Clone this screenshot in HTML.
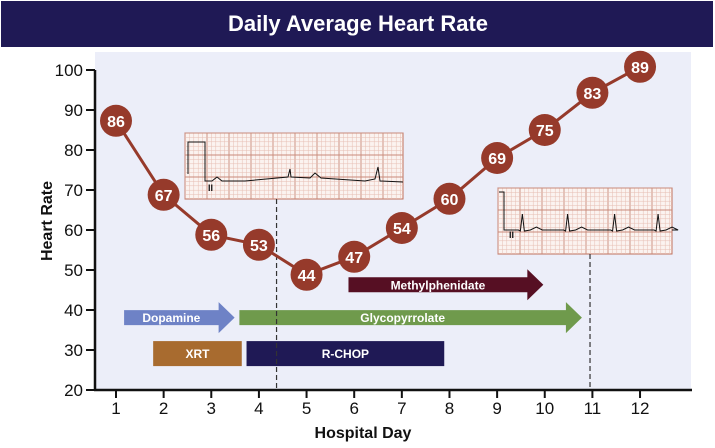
<!DOCTYPE html>
<html><head><meta charset="utf-8">
<style>
html,body{margin:0;padding:0;background:#fff;}
body{width:715px;height:443px;overflow:hidden;font-family:"Liberation Sans",sans-serif;}
svg text{font-family:"Liberation Sans Narrow","Liberation Sans",sans-serif;}
</style></head>
<body>
<svg id="chart" width="715" height="443" viewBox="0 0 715 443" xmlns="http://www.w3.org/2000/svg">
  <rect x="1" y="1" width="712" height="46" fill="#1f1955"/>
  <text x="358" y="31" text-anchor="middle" fill="#fff" font-size="22" font-weight="bold">Daily Average Heart Rate</text>
  <rect x="95" y="52" width="596" height="338" fill="#eceef9"/>
  <g id="bars"></g>
  <g id="ecg"></g>
  <g id="series"></g>
  <g id="axes"></g>
  <text transform="translate(52,221) rotate(-90)" text-anchor="middle" font-size="16" font-weight="bold" fill="#111">Heart Rate</text>
  <text x="363" y="438" text-anchor="middle" font-size="16" font-weight="bold" fill="#111">Hospital Day</text>
</svg>
<script>
const days = [1,2,3,4,5,6,7,8,9,10,11,12];
const plotted = [87.3,68.8,58.8,56.3,48.8,53.3,60.5,67.8,78,85,94.3,100.8];
const labels = ["86","67","56","53","44","47","54","60","69","75","83","89"];
const yTicks = [20,30,40,50,60,70,80,90,100];
const therapyNames = ["Dopamine","Glycopyrrolate","Methylphenidate","XRT","R-CHOP"];
const therapyStart = [1.17,3.59,5.88,1.78,3.74];
const therapyEnd = [3.49,10.78,9.97,3.64,7.89];
const therapyLevel = [38.1,38.1,46.3,29.1,29.1];
const ecgDays = [4.37,10.95];

const NS="http://www.w3.org/2000/svg";
const x = d => 116 + (d-1)*47.64;
const y = v => 390 - (v-20)*4;
function el(tag, attrs, parent){const e=document.createElementNS(NS,tag);for(const k in attrs)e.setAttribute(k,attrs[k]);parent.appendChild(e);return e;}

const axes=document.getElementById('axes');
let a=el('line',{x1:94,y1:390,x2:692,y2:390,stroke:'#111','stroke-width':2.5},axes);


a=el('line',{x1:95,y1:70,x2:95,y2:391,stroke:'#111','stroke-width':2.5},axes);


yTicks.forEach(t=>{
  const l=el('line',{x1:86,y1:y(t),x2:95,y2:y(t),stroke:'#111','stroke-width':2},axes);
  
  
  const tx=el('text',{x:83,y:y(t)+6,'text-anchor':'end','font-size':17,fill:'#111'},axes);
  tx.textContent=t;
  
  
});
days.forEach(d=>{
  const l=el('line',{x1:x(d),y1:390,x2:x(d),y2:398,stroke:'#111','stroke-width':2},axes);
  
  
  const tx=el('text',{x:x(d),y:414,'text-anchor':'middle','font-size':17,fill:'#111'},axes);
  tx.textContent=d;
  
  
});

// therapy bars
const barColors=["#6e82c6","#6f9a4c","#560f23","#a86b2f","#1f1955"];
const bars=document.getElementById('bars');
therapyNames.forEach((n,i)=>{
  const x0=x(therapyStart[i]), x1=x(therapyEnd[i]), yc=y(therapyLevel[i]);
  const isArrow=i<3;
  let shape;
  if(isArrow){
    const h=15, hh=31, hl=16;
    shape=el('polygon',{points:`${x0},${yc-h/2} ${x1-hl},${yc-h/2} ${x1-hl},${yc-hh/2} ${x1},${yc} ${x1-hl},${yc+hh/2} ${x1-hl},${yc+h/2} ${x0},${yc+h/2}`,fill:barColors[i]},bars);
  } else {
    shape=el('rect',{x:x0,y:yc-12.5,width:x1-x0,height:25,fill:barColors[i]},bars);
  }
  
  
  const cx=isArrow?(x0+x1-16)/2:(x0+x1)/2;
  const t=el('text',{x:cx,y:yc+4.5,'text-anchor':'middle','font-size':12,'font-weight':'bold',fill:'#fff'},bars);
  t.textContent=n;
  
  
});

// ECG strips
const ecg=document.getElementById('ecg');
const boxes=[{x:185,y:133,w:218,h:66,beats:[0.5,0.96],spike:true},{x:498,y:188,w:174,h:66,beats:[0.14,0.4,0.67,0.92],spike:false}];
boxes.forEach((b,bi)=>{
  const g=el('g',{},ecg);
  
  
  el('rect',{x:b.x,y:b.y,width:b.w,height:b.h,fill:'#fbf3f0',stroke:'#c0705c','stroke-width':1},g);
  for(let gx=b.x;gx<=b.x+b.w;gx+=4.4){const major=Math.round((gx-b.x)/4.4)%5===0;el('line',{x1:gx,y1:b.y,x2:gx,y2:b.y+b.h,stroke:major?'#c98a7a':'#e6bdb2','stroke-width':major?0.9:0.5},g);}
  for(let gy=b.y;gy<=b.y+b.h;gy+=4.4){const major=Math.round((gy-b.y)/4.4)%5===0;el('line',{x1:b.x,y1:gy,x2:b.x+b.w,y2:gy,stroke:major?'#c98a7a':'#e6bdb2','stroke-width':major?0.9:0.5},g);}
  const base=b.y+(bi===0?48:42);
  let pts=[];
  if(bi===0){
    pts.push([b.x+3,b.y+41],[b.x+3,b.y+9],[b.x+20,b.y+9],[b.x+20,base],[b.x+27,base],[b.x+32,base-4],[b.x+37,base],[b.x+60,base]);
    pts.push([b.x+103,base-4],[b.x+105,base-12],[b.x+106,base-4],[b.x+125,base-3],[b.x+130,base-8],[b.x+136,base-3],[b.x+180,base],[b.x+190,base-2],[b.x+193,base-14],[b.x+195,base],[b.x+218,base+1]);
  } else {
    pts.push([b.x+1,b.y+4],[b.x+6,b.y+4],[b.x+6,base]);
    b.beats.forEach(f=>{const px=b.x+f*b.w;pts.push([px-4,base],[px-2,base+1],[px,base-16],[px+2,base+1],[px+8,base],[px+14,base-3],[px+20,base]);});
    pts.push([b.x+b.w,base]);
  }
  el('polyline',{points:pts.map(p=>p.join(',')).join(' '),fill:'none',stroke:'#111','stroke-width':1},g);
  const lab=el('text',{x:b.x+(bi===0?23:11),y:b.y+(bi===0?58:50),'font-size':9,'font-weight':'bold',fill:'#111'},g);
  lab.textContent='II';
});
ecgDays.forEach((d,i)=>{
  const b=boxes[i];
  const l=el('line',{x1:x(d),y1:b.y+b.h,x2:x(d),y2:390,stroke:'#333','stroke-width':1.2,'stroke-dasharray':'5,3'},ecg);
  
  
});

// series
const series=document.getElementById('series');
const line=el('polyline',{points:days.map((d,i)=>x(d)+','+y(plotted[i])).join(' '),fill:'none',stroke:'#963a2b','stroke-width':3},series);


days.forEach((d,i)=>{
  const c=el('circle',{cx:x(d),cy:y(plotted[i]),r:16,fill:'#963a2b'},series);
  
  
  const t=el('text',{x:x(d),y:y(plotted[i])+6,'text-anchor':'middle','font-size':16,'font-weight':'bold',fill:'#fff'},series);
  t.textContent=labels[i];
  
  
});
</script>
</body></html>
